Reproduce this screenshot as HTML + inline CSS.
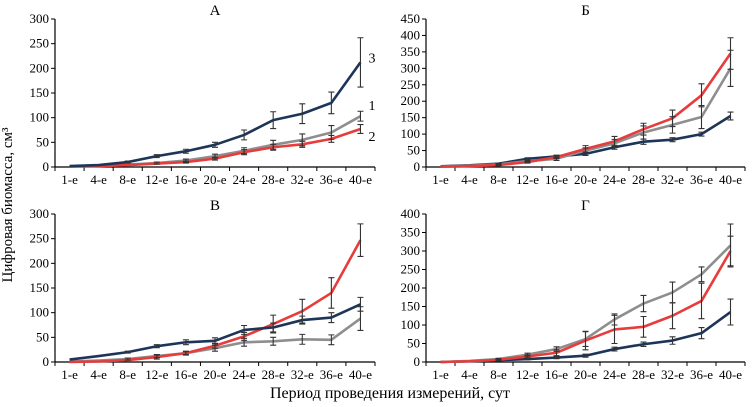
<!DOCTYPE html>
<html><head><meta charset="utf-8">
<style>
html,body{margin:0;padding:0;background:#fff;}
svg{display:block;font-family:"Liberation Serif","DejaVu Serif",serif;}
</style></head>
<body>
<svg id="chart" width="756" height="407" viewBox="0 0 756 407" xmlns="http://www.w3.org/2000/svg">
<text x="12" y="205" font-size="15" text-anchor="middle" transform="rotate(-90 12 205)">Цифровая биомасса, см³</text>
<text x="390" y="398" font-size="16" text-anchor="middle">Период проведения измерений, сут</text>
</svg>
<script>
const categories = ["1-е","4-е","8-е","12-е","16-е","20-е","24-е","28-е","32-е","36-е","40-е"];
const aNavy = [2,4,10,22,32,45,65,95,108,130,212];
const aGray = [1,2,5,8,13,22,33,45,55,70,103];
const aRed = [1,2,4,7,10,17,30,40,46,57,77];
const aNavyErr = [1,1,2,3,4,5,10,17,20,22,50];
const aGrayErr = [0,0,1,2,3,4,6,9,12,14,10];
const aRedErr = [0,0,1,1,2,3,5,6,6,7,9];
const bNavy = [2,5,10,25,32,40,60,77,83,100,155];
const bGray = [1,4,8,18,25,50,72,105,128,152,300];
const bRed = [1,3,6,15,30,55,78,115,148,218,345];
const bNavyErr = [1,1,2,3,4,5,6,8,6,6,12];
const bGrayErr = [0,1,2,3,5,8,12,20,25,35,55];
const bRedErr = [0,1,2,3,4,10,15,18,25,35,48];
const cNavy = [5,12,20,32,40,43,65,70,85,90,117];
const cGray = [1,3,6,12,18,28,40,42,46,45,88];
const cRed = [0,1,4,10,18,33,52,77,103,140,247];
const cNavyErr = [1,1,2,3,5,6,9,9,8,10,14];
const cGrayErr = [0,1,2,3,4,6,8,8,10,10,24];
const cRedErr = [0,0,1,4,3,5,8,18,24,31,33];
const dNavy = [0,2,5,8,12,17,35,48,58,78,135];
const dGray = [0,3,8,20,35,62,115,158,188,237,315];
const dRed = [0,2,6,15,25,58,88,95,125,165,300];
const dNavyErr = [0,1,1,2,3,4,5,6,10,15,35];
const dGrayErr = [0,1,2,4,6,20,15,22,28,20,58];
const dRedErr = [0,1,2,4,8,25,38,28,35,48,40];
const yTicksA = [0,50,100,150,200,250,300];
const yTicksB = [0,50,100,150,200,250,300,350,400,450];
const yTicksC = [0,50,100,150,200,250,300];
const yTicksD = [0,50,100,150,200,250,300,350,400];

const NS="http://www.w3.org/2000/svg";
const svg=document.getElementById('chart');
function mk(tag,attrs,parent){const e=document.createElementNS(NS,tag);for(const k in attrs)e.setAttribute(k,attrs[k]);(parent||svg).appendChild(e);return e;}
const NAVY="#1d3557",GRAY="#8e8e8e",RED="#e63c3c";

function panel(id,title,x0,x1,y0,yTop,ticks,series){
  const g=mk('g',{});
  
  
  const ymax=ticks[ticks.length-1];
  const n=categories.length, cw=(x1-x0)/n;
  const xs=i=>x0+cw*(i+0.5);
  const ys=v=>y0-(v/ymax)*(y0-yTop);
  const t=mk('text',{x:(x0+x1)/2,y:yTop-4,'font-size':15,'text-anchor':'middle'},g);
  t.textContent=title;
  
  
  mk('line',{x1:x0,y1:yTop,x2:x0,y2:y0,stroke:'#000','stroke-width':1.2},g);
  mk('line',{x1:x0,y1:y0,x2:x1,y2:y0,stroke:'#000','stroke-width':1.2},g);
  ticks.forEach(v=>{
    mk('line',{x1:x0-4,y1:ys(v),x2:x0,y2:ys(v),stroke:'#000'},g);
    const tl=mk('text',{x:x0-6,y:ys(v)+4,'font-size':13,'text-anchor':'end'},g);
    tl.textContent=v;
    
    
  });
  for(let i=0;i<=n;i++) mk('line',{x1:x0+cw*i,y1:y0,x2:x0+cw*i,y2:y0+4,stroke:'#000'},g);
  categories.forEach((c,i)=>{
    const tl=mk('text',{x:x0+cw*(i+0.5),y:y0+17,'font-size':13,'text-anchor':'middle'},g);
    tl.textContent=c;
    
    
  });
  series.forEach(s=>{
    const p=mk('polyline',{points:s.v.map((v,i)=>xs(i)+','+ys(v)).join(' '),fill:'none',stroke:s.c,'stroke-width':2.6,'stroke-linejoin':'round'},g);
    
    
  });
  series.forEach(s=>{
    s.v.forEach((v,i)=>{
      const e=s.e[i]; if(e<2) return;
      const x=xs(i),a=ys(v+e),b=ys(Math.max(0,v-e));
      const eb=mk('path',{d:`M${x},${a}V${b}M${x-3},${a}H${x+3}M${x-3},${b}H${x+3}`,stroke:'#333','stroke-width':1.1,fill:'none'},g);
      
      
    });
  });
  return {xs,ys};
}
const A=panel('a','А',55,375,167,19,yTicksA,[
  {n:'gray',c:GRAY,v:aGray,e:aGrayErr},{n:'red',c:RED,v:aRed,e:aRedErr},{n:'navy',c:NAVY,v:aNavy,e:aNavyErr}]);
[['3',aNavy],['1',aGray],['2',aRed]].forEach(([l,arr])=>{
  const t=mk('text',{x:A.xs(10)+8,y:A.ys(arr[10])+(l==='2'?12:l==='1'?-6:0),'font-size':14});
  t.textContent=l;
  
  
});
panel('b','Б',426,745,167,19,yTicksB,[
  {n:'navy',c:NAVY,v:bNavy,e:bNavyErr},{n:'gray',c:GRAY,v:bGray,e:bGrayErr},{n:'red',c:RED,v:bRed,e:bRedErr}]);
panel('c','В',55,375,362,214,yTicksC,[
  {n:'gray',c:GRAY,v:cGray,e:cGrayErr},{n:'red',c:RED,v:cRed,e:cRedErr},{n:'navy',c:NAVY,v:cNavy,e:cNavyErr}]);
panel('d','Г',426,745,362,214,yTicksD,[
  {n:'navy',c:NAVY,v:dNavy,e:dNavyErr},{n:'gray',c:GRAY,v:dGray,e:dGrayErr},{n:'red',c:RED,v:dRed,e:dRedErr}]);
</script>
</body></html>
